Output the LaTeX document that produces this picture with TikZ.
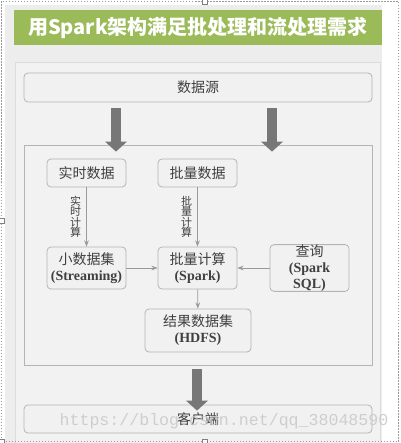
\documentclass[tikz,border=0pt]{standalone}
\usepackage{fontspec}
\setmainfont{Liberation Serif}
\newfontfamily\cjk{Noto Sans CJK SC}
\newfontfamily\wmfont{Liberation Mono}
\usetikzlibrary{arrows.meta}

\definecolor{titlegreen}{HTML}{9BBB59}
\definecolor{panelbg}{HTML}{EDEDED}
\definecolor{innerbg}{HTML}{F2F2F2}
\definecolor{innerline}{HTML}{DCDCDC}
\definecolor{boxfill}{HTML}{F1F1F1}
\definecolor{boxline}{HTML}{B4B4B4}
\definecolor{textgray}{HTML}{404040}
\definecolor{linegray}{HTML}{9A9A9A}
\definecolor{arrowgray}{HTML}{777777}
\definecolor{wmgray}{HTML}{C8C8C8}

\newcommand{\zh}[1]{{\cjk\mdseries #1}}

\begin{document}
\begin{tikzpicture}[x=1pt, y=-1pt, >=Stealth,
  box/.style={draw=boxline, fill=boxfill, rounded corners=4pt, line width=0.8pt,
    align=center, text=textgray, inner sep=0pt,
    font=\fontsize{14}{16}\selectfont\bfseries},
  thin/.style={->, draw=linegray, line width=0.7pt},
  fatarrow/.style={line width=10pt, draw=arrowgray,
    -{Triangle[width=22pt, length=10pt, line width=0pt]}},
  vlabel/.style={font=\cjk\fontsize{11}{10.5}\selectfont, text=textgray,
    align=center, inner sep=1pt}]
  \useasboundingbox (0,0) rectangle (400,443);

  %% Background panels and title bar
  \fill[panelbg] (5,5) rectangle (382,443);
  \filldraw[fill=innerbg, draw=innerline] (15,62) rectangle (380,445);
  \fill[titlegreen] (14,10) rectangle (382,45);
  \node[font=\cjk\bfseries\fontsize{20}{20}\selectfont, text=white] (title)
    at (198,27.5) {用Spark架构满足批处理和流处理需求};

  %% Source, core frame and client
  \node[box, minimum width=348pt, minimum height=29pt] (src) at (198,87.5) {\zh{数据源}};
  \node[draw=boxline, fill=innerbg, line width=0.8pt,
        minimum width=348pt, minimum height=220pt] (core) at (198,255) {};
  \node[box, minimum width=348pt, minimum height=28pt] (client) at (198,419) {\zh{客户端}};

  %% Inner boxes
  \node[box, minimum width=79pt, minimum height=28pt] (rtdata) at (86.5,173) {\zh{实时数据}};
  \node[box, minimum width=79pt, minimum height=28pt] (btdata) at (197.5,173) {\zh{批量数据}};
  \node[box, minimum width=79pt, minimum height=42pt] (stream) at (86.5,268)
    {\zh{小数据集}\\(Streaming)};
  \node[box, minimum width=79pt, minimum height=42pt] (spark) at (197.5,268)
    {\zh{批量计算}\\(Spark)};
  \node[box, minimum width=79pt, minimum height=42pt] (query) at (309.5,268)
    {\zh{查询}\\(Spark\\SQL)};
  \node[box, minimum width=106pt, minimum height=43pt] (result) at (198,330.5)
    {\zh{结果数据集}\\(HDFS)};

  %% Thin connectors
  \draw[thin] (rtdata) -- (stream)
    node[midway, left=4pt, vlabel]{实\\时\\计\\算};
  \draw[thin] (btdata) -- (spark)
    node[midway, left=4pt, vlabel]{批\\量\\计\\算};
  \draw[thin] (stream) -- (spark);
  \draw[thin] (query) -- (spark);
  \draw[thin] (spark) -- (result);

  %% Fat arrows
  \draw[fatarrow] ([xshift=-82pt, yshift=-6pt]src.south) -- ([xshift=-82pt, yshift=-7pt]core.north);
  \draw[fatarrow] ([xshift=74pt, yshift=-6pt]src.south) -- ([xshift=74pt, yshift=-7pt]core.north);
  \draw[fatarrow] ([xshift=-1pt, yshift=-4pt]core.south) -- ([xshift=-1pt, yshift=-6pt]client.north);

  %% Watermark
  \node[font=\wmfont\fontsize{16.6}{16.6}\selectfont, text=wmgray, opacity=0.85] (wm)
    at (224,421) {https://blog.csdn.net/qq\_38048590};

  %% Selection frame and handles
  \draw[gray!80, line width=0.5pt, dash pattern=on 1.5pt off 1.5pt] (1.5,1.5) rectangle (398.5,441.5);
  \foreach \hx/\hy in {205/1.5, 1.5/221, 205/441.5, 1.5/441.5}
    \filldraw[fill=white, draw=gray, line width=0.5pt] (\hx-2.5,\hy-2.5) rectangle (\hx+2.5,\hy+2.5);
\end{tikzpicture}
\end{document}
